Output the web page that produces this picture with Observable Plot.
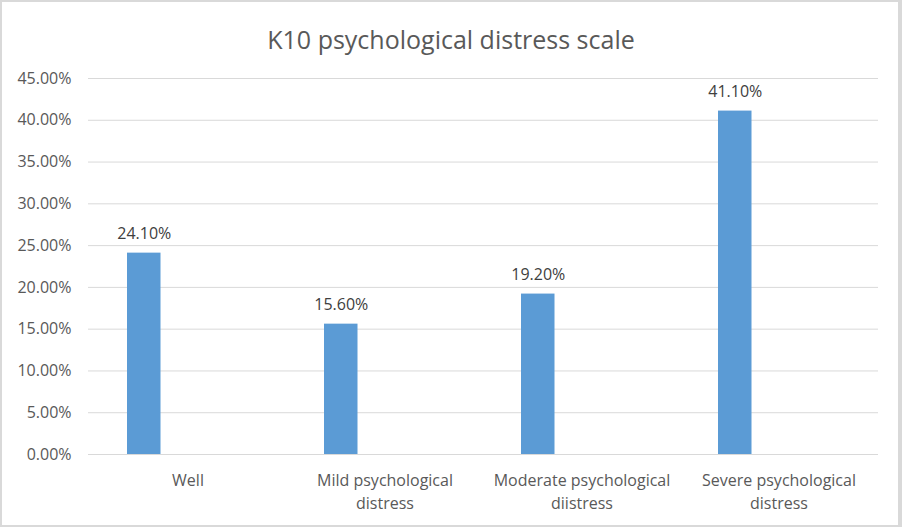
<!DOCTYPE html>
<html>
<head>
<meta charset="utf-8">
<script src="https://cdn.jsdelivr.net/npm/d3@7"></script>
<script src="https://cdn.jsdelivr.net/npm/@observablehq/plot@0.6"></script>
<style>
  html, body { margin: 0; padding: 0; background: #fff; }
  #wrap { position: relative; width: 902px; height: 527px; overflow: hidden; font-family: "Open Sans", sans-serif; }
  #frame { position: absolute; left: 0; top: 0; width: 902px; height: 527px; box-sizing: border-box; border: 2px solid #d9d9d9; border-right-width: 4px; pointer-events: none; }
  #title { height: 62px; line-height: 78px; text-align: center; font-size: 25px; color: #595959; }
  svg { display: block; }
</style>
</head>
<body>
<div id="wrap">
  <div id="title">K10 psychological distress scale</div>
  <div id="chart"></div>
  <div id="frame"></div>
</div>
<script>
const categories = ["Well", "Mild psychological distress", "Moderate psychological diistress", "Severe psychological distress"];
const categoryLabels = ["Well", "Mild psychological\ndistress", "Moderate psychological\ndiistress", "Severe psychological\ndistress"];
const values = [24.1, 15.6, 19.2, 41.1];
const yTicks = [0, 5, 10, 15, 20, 25, 30, 35, 40, 45];

const data = categories.map((c, i) => ({category: c, value: values[i]}));
const labelOf = new Map(categories.map((c, i) => [c, categoryLabels[i]]));

const bandWidth = (902 - 88 - 24) / categories.length;
const barLeft = 38, barW = 34;
const dxCenter = barLeft + barW / 2 - bandWidth / 2;

const chart = Plot.plot({
  width: 902,
  height: 465,
  marginTop: 16,
  marginBottom: 73,
  marginLeft: 88,
  marginRight: 24,
  style: {fontFamily: "Open Sans, sans-serif", fontSize: "16px", color: "#595959", background: "transparent"},
  x: {type: "band", domain: categories, padding: 0},
  y: {domain: [0, 45]},
  marks: [
    Plot.ruleY(yTicks, {stroke: "#d9d9d9", strokeWidth: 1}),
    Plot.barY(data, {x: "category", y: "value", fill: "#5b9bd5", insetLeft: barLeft, insetRight: bandWidth - barLeft - barW}),
    Plot.text(data, {x: "category", y: "value", text: d => d.value.toFixed(2) + "%", dx: dxCenter, dy: -14, lineAnchor: "bottom", fill: "#404040", fontSize: 16}),
    Plot.axisY({ticks: yTicks, tickFormat: d => d.toFixed(2) + "%", tickSize: 0, tickPadding: 17, fill: "#595959", fontSize: 16, label: null}),
    Plot.axisX({tickFormat: d => labelOf.get(d), tickSize: 0, tickPadding: 15, lineHeight: 1.44, fill: "#595959", fontSize: 16, label: null})
  ]
});
document.getElementById("chart").appendChild(chart);
</script>
</body>
</html>
